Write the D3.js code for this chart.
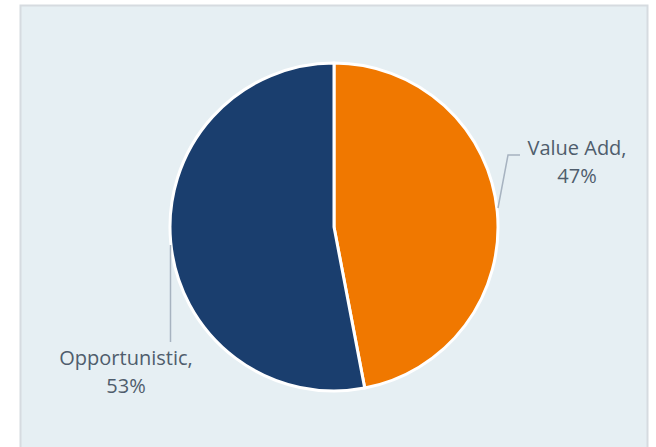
<!DOCTYPE html>
<html>
<head>
<meta charset="utf-8">
<script src="https://cdn.jsdelivr.net/npm/d3@7"></script>
<style>
  html, body { margin: 0; padding: 0; background: #fff; }
  svg { display: block; }
</style>
</head>
<body>
<script>
    const categories = ["Value Add", "Opportunistic"];
    const values = [47, 53];
    const colors = ["#f07800", "#1a3e6e"];

    const width = 656;
    const height = 447;

    const svg = d3.select("body").append("svg")
        .attr("width", width)
        .attr("height", height);

    // panel background
    svg.append("rect")
        .attr("x", 20.5)
        .attr("y", 5.5)
        .attr("width", 627)
        .attr("height", 460)
        .attr("fill", "#e6eff3")
        .attr("stroke", "#d6dbe0")
        .attr("stroke-width", 2);

    const cx = 334, cy = 227, r = 164;

    const pie = d3.pie().sort(null).value(d => d);
    const arcs = pie(values);
    const arc = d3.arc().innerRadius(0).outerRadius(r);

    const g = svg.append("g").attr("transform", `translate(${cx},${cy})`);

    g.selectAll("path")
        .data(arcs)
        .join("path")
        .attr("d", arc)
        .attr("fill", (d, i) => colors[i])
        .attr("stroke", "#fff")
        .attr("stroke-width", 3)
        .attr("stroke-linejoin", "round");

    // leader lines
    const leaders = [
        [[498, 208], [508, 155], [520, 155]],
        [[170.5, 245], [170.5, 342]]
    ];
    svg.append("g")
        .selectAll("path")
        .data(leaders)
        .join("path")
        .attr("d", d3.line())
        .attr("fill", "none")
        .attr("stroke", "#a7b3c0")
        .attr("stroke-width", 1.5);

    const labelPos = [[577, 155], [126, 365]];
    const text = svg.append("g")
        .attr("font-family", "'Open Sans', sans-serif")
        .attr("font-size", 20)
        .attr("fill", "#4f5d6c")
        .attr("text-anchor", "middle");

    categories.forEach((c, i) => {
        const t = text.append("text")
            .attr("x", labelPos[i][0])
            .attr("y", labelPos[i][1]);
        t.append("tspan").attr("x", labelPos[i][0]).text(c + ",");
        t.append("tspan").attr("x", labelPos[i][0]).attr("dy", 28).text(values[i] + "%");
    });
</script>
</body>
</html>
